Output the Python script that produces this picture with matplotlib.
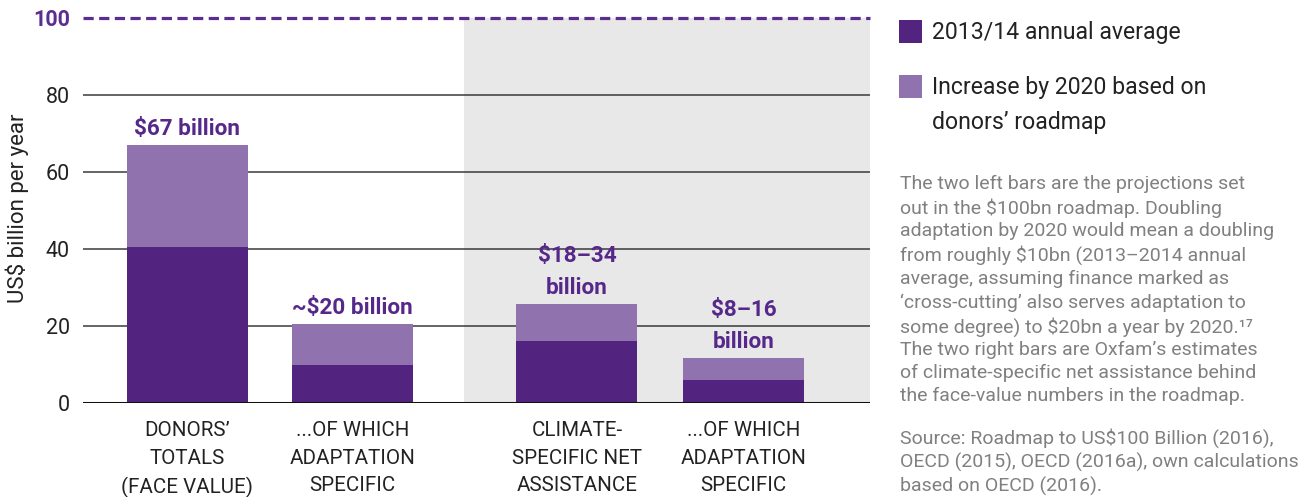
import matplotlib
matplotlib.use("Agg")
import matplotlib.pyplot as plt
from matplotlib.patches import Rectangle

# ---- data ----
categories = ["DONORS’\nTOTALS\n(FACE VALUE)", "...OF WHICH\nADAPTATION\nSPECIFIC",
              "CLIMATE-\nSPECIFIC NET\nASSISTANCE", "...OF WHICH\nADAPTATION\nSPECIFIC"]
base_2013_14 = [40.5, 10.0, 16.0, 6.0]
increase_2020 = [26.5, 10.5, 9.7, 5.7]
value_labels = ["$67 billion", "~$20 billion", "$18–34\nbillion", "$8–16\nbillion"]
positions = [0.0, 1.0, 2.36, 3.37]
yticks = [0, 20, 40, 60, 80]
target = 100
legend_labels = ["2013/14 annual average", "Increase by 2020 based on\ndonors’ roadmap"]
note_text = ("The two left bars are the projections set\n"
             "out in the $100bn roadmap. Doubling\n"
             "adaptation by 2020 would mean a doubling\n"
             "from roughly $10bn (2013–2014 annual\n"
             "average, assuming finance marked as\n"
             "‘cross-cutting’ also serves adaptation to\n"
             "some degree) to $20bn a year by 2020.¹⁷\n"
             "The two right bars are Oxfam’s estimates\n"
             "of climate-specific net assistance behind\n"
             "the face-value numbers in the roadmap.")
source_text = ("Source: Roadmap to US$100 Billion (2016),\n"
               "OECD (2015), OECD (2016a), own calculations\n"
               "based on OECD (2016).")

DARK = "#52237f"
LIGHT = "#8f72ae"
LABEL = "#56288a"
GREY_BG = "#e8e8e8"
NOTE = "#808080"

plt.rcParams['font.family'] = ['Roboto', 'DejaVu Sans']

W, H = 1298, 497
fig = plt.figure(figsize=(W / 100, H / 100), dpi=100)
ax = fig.add_axes([83 / W, (H - 403) / H, (870 - 83) / W, (403 - 18) / H])

xmin, xmax = -0.633, 4.136
ax.set_xlim(xmin, xmax)
ax.set_ylim(0, target)

# shaded region for the right pair
ax.add_patch(Rectangle((1.676, 0), xmax - 1.676, target, facecolor=GREY_BG,
                       edgecolor='none', zorder=0))

for y in yticks[1:]:
    ax.axhline(y, color="#3a3a3a", lw=1.1, zorder=1)
ax.axhline(0, color="#111111", lw=2.2, zorder=4)
ax.axhline(target, color="#5c2d91", lw=2.3, ls=(0, (3.2, 1.7)), zorder=4, clip_on=False)

bw = 0.733
ax.bar(positions, base_2013_14, width=bw, color=DARK, zorder=3)
ax.bar(positions, increase_2020, width=bw, bottom=base_2013_14, color=LIGHT, zorder=3)

for x, b, inc, lab in zip(positions, base_2013_14, increase_2020, value_labels):
    ax.annotate(lab, (x, b + inc), xytext=(0, 7), textcoords='offset points',
                ha='center', va='baseline', fontsize=16.2, fontweight='bold',
                color=LABEL, linespacing=1.62)

ax.set_xticks(positions)
ax.set_xticklabels(categories, fontsize=14.8, color="#222222", linespacing=1.55)
ax.tick_params(axis='x', length=0, pad=13.2)
ax.set_yticks(yticks + [target])
ax.set_yticklabels([str(v) for v in yticks] + [str(target)], fontsize=15.5, color="#222222")
ax.tick_params(axis='y', length=0, pad=9.4)
lbl = ax.get_yticklabels()[-1]
lbl.set_color("#5c2d91")
lbl.set_fontweight('bold')
for s in ax.spines.values():
    s.set_visible(False)

fig.text(17 / W, 1 - 208 / H, "US$ billion per year", rotation=90, ha='center', va='center',
         fontsize=16, color="#222222")

# legend
fig.patches.append(Rectangle((899 / W, 1 - 43 / H), 23 / W, 23 / H, transform=fig.transFigure,
                             facecolor=DARK, edgecolor='none'))
fig.patches.append(Rectangle((899 / W, 1 - 98 / H), 23 / W, 23 / H, transform=fig.transFigure,
                             facecolor=LIGHT, edgecolor='none'))
fig.text(932 / W, 1 - 32 / H, legend_labels[0], ha='left', va='center', fontsize=16.6, color="#222222")
fig.text(932 / W, 1 - 105 / H, legend_labels[1], ha='left', va='center', fontsize=16.6,
         color="#222222", linespacing=1.72)

fig.text(900 / W, 1 - 290 / H, note_text, ha='left', va='center', fontsize=14, color=NOTE,
         linespacing=1.34)
fig.text(900 / W, 1 - 462 / H, source_text, ha='left', va='center', fontsize=14, color=NOTE,
         linespacing=1.34)

fig.savefig("out.png", dpi=100)
